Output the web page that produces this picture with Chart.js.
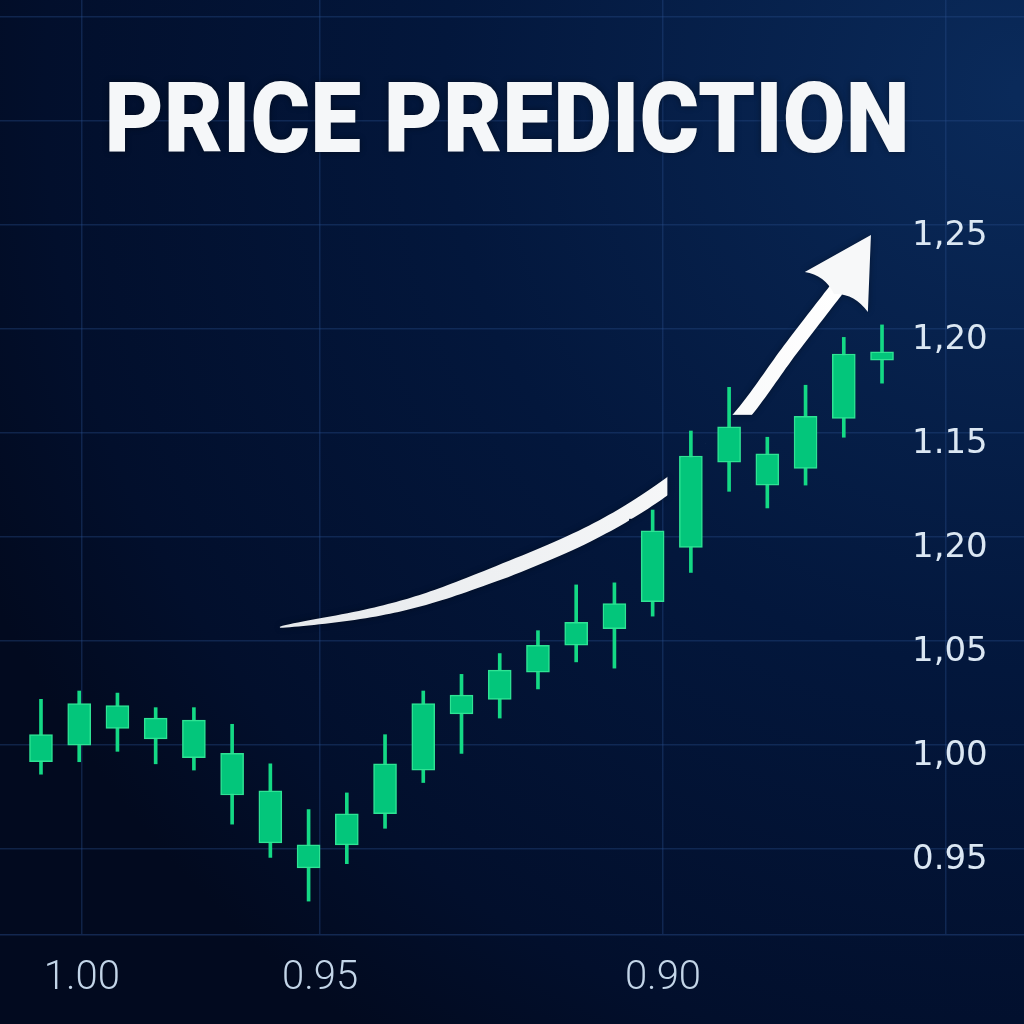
<!DOCTYPE html>
<html><head><meta charset="utf-8">
<script src="https://cdn.jsdelivr.net/npm/chart.js@4.4.1/dist/chart.umd.min.js"></script>
<style>html,body{margin:0;padding:0;background:#03163a;}#wrap{width:1024px;height:1024px;}</style>
</head><body><div id="wrap"><canvas id="c" width="1024" height="1024"></canvas></div>
<script>
const titleText = 'PRICE PREDICTION';
const candleX = [0,1,2,3,4,5,6,7,8,9,10,11,12,13,14,15,16,17,18,19,20,21,22];
const openV  = [0.992,1.000,1.008,1.003,0.994,0.976,0.953,0.941,0.952,0.967,0.988,1.015,1.022,1.035,1.048,1.056,1.069,1.095,1.136,1.125,1.133,1.157,1.185];
const closeV = [1.005,1.020,1.019,1.013,1.012,0.996,0.978,0.952,0.967,0.991,1.020,1.024,1.036,1.048,1.059,1.068,1.103,1.139,1.153,1.140,1.158,1.188,1.189];
const highV  = [1.022,1.026,1.025,1.018,1.018,1.010,0.991,0.969,0.977,1.005,1.026,1.034,1.044,1.055,1.077,1.078,1.113,1.151,1.172,1.148,1.173,1.196,1.202];
const lowV   = [0.986,0.992,0.997,0.991,0.988,0.962,0.946,0.925,0.943,0.960,0.982,0.996,1.013,1.027,1.040,1.037,1.062,1.083,1.122,1.114,1.125,1.148,1.174];
const yTickValues = [0.95,1.00,1.05,1.10,1.15,1.20,1.25,1.30,1.35];
const yTickLabels = ['0.95','1,00','1,05','1,20','1.15','1,20','1,25','',''];
const xTickValues = [1.07,7.3,16.27,23.67];
const xTickLabels = ['1.00','0.95','0.90',''];
const arrowPath = [[6.25,1.0567],[8.87,1.0645],[11.06,1.0765],[14.28,1.1010],[16.61,1.1275],[18.21,1.1558],[19.59,1.1899],[20.80,1.2188]];
const arrowHead = [[21.71,1.2452],[19.98,1.2274],[21.63,1.2082]];

const bgPlugin = {
  id:'bg',
  beforeDraw(chart){
    const ctx = chart.ctx, W = chart.width, H = chart.height;
    ctx.save();
    const r = ctx.createRadialGradient(1024,90,10,1024,90,1150);
    r.addColorStop(0,'#0a2a5a');
    r.addColorStop(0.5,'#03173c');
    r.addColorStop(0.85,'#020f2c');
    r.addColorStop(1,'#020a1f');
    ctx.fillStyle = r; ctx.fillRect(0,0,W,H);
    ctx.restore();
  }
};

function catmull(pts, n){
  const out=[];
  for(let i=0;i<pts.length-1;i++){
    const p0=pts[Math.max(0,i-1)],p1=pts[i],p2=pts[i+1],p3=pts[Math.min(pts.length-1,i+2)];
    for(let k=0;k<n;k++){
      const t=k/n,t2=t*t,t3=t2*t;
      const f=(a,b,c,d)=>0.5*((2*b)+(-a+c)*t+(2*a-5*b+4*c-d)*t2+(-a+3*b-3*c+d)*t3);
      out.push([f(p0[0],p1[0],p2[0],p3[0]),f(p0[1],p1[1],p2[1],p3[1])]);
    }
  }
  out.push(pts[pts.length-1]);
  return out;
}

const arrowPlugin = {
  id:'arrow',
  beforeDatasetsDraw(chart){
    const xs=chart.scales.x, ys=chart.scales.y;
    const off=document.createElement('canvas'); off.width=chart.width; off.height=chart.height;
    const ctx=off.getContext('2d');
    const P = arrowPath.map(p=>[xs.getPixelForValue(p[0]), ys.getPixelForValue(p[1])]);
    const pts = catmull(P, 20);
    const cum=[0];
    for(let i=1;i<pts.length;i++){cum.push(cum[i-1]+Math.hypot(pts[i][0]-pts[i-1][0],pts[i][1]-pts[i-1][1]));}
    const L=cum[cum.length-1];
    const left=[],right=[];
    for(let i=0;i<pts.length;i++){
      const a=pts[Math.max(0,i-1)], b=pts[Math.min(pts.length-1,i+1)];
      let dx=b[0]-a[0], dy=b[1]-a[1]; const d=Math.hypot(dx,dy)||1; dx/=d; dy/=d;
      const nx=-dy, ny=dx;
      const s=cum[i]/L;
      const w = 1 + 14*Math.pow(Math.min(1,s/0.35),0.6);
      left.push([pts[i][0]+nx*w/2, pts[i][1]+ny*w/2]);
      right.push([pts[i][0]-nx*w/2, pts[i][1]-ny*w/2]);
    }
    const g = ctx.createLinearGradient(P[0][0],P[0][1],P[P.length-1][0],P[P.length-1][1]);
    g.addColorStop(0,'#e6e9ec'); g.addColorStop(1,'#ffffff');
    ctx.fillStyle=g;
    ctx.beginPath();
    ctx.moveTo(left[0][0],left[0][1]);
    for(const p of left) ctx.lineTo(p[0],p[1]);
    for(let i=right.length-1;i>=0;i--) ctx.lineTo(right[i][0],right[i][1]);
    ctx.closePath(); ctx.fill();
    const H = arrowHead.map(p=>[xs.getPixelForValue(p[0]), ys.getPixelForValue(p[1])]);
    const end = P[P.length-1];
    ctx.fillStyle='#f7f8f9';
    ctx.beginPath();
    ctx.moveTo(H[0][0],H[0][1]);
    ctx.lineTo(H[1][0],H[1][1]);
    ctx.quadraticCurveTo((H[1][0]+end[0])/2+4,(H[1][1]+end[1])/2-6,end[0]-2,end[1]+4);
    ctx.quadraticCurveTo((H[2][0]+end[0])/2+2,(H[2][1]+end[1])/2-8,H[2][0],H[2][1]);
    ctx.closePath(); ctx.fill();
    // candles hide the arrow with a small dark halo around their bodies
    ctx.globalCompositeOperation='destination-out';
    const meta = chart.getDatasetMeta(0);
    meta.data.forEach(el=>{
      const p = el.getProps(['x','y','base','width'], true);
      const top=Math.min(p.y,p.base), bot=Math.max(p.y,p.base);
      ctx.fillRect(p.x-p.width/2-12, top-12, p.width+24, bot-top+19);
    });
    const c=chart.ctx;
    c.save();
    c.shadowColor='rgba(0,0,0,0.35)'; c.shadowBlur=6;
    c.drawImage(off,0,0);
    c.restore();
  }
};

const titlePlugin = {
  id:'titleText',
  afterDraw(chart){
    const ctx=chart.ctx;
    ctx.save();
    ctx.font='900 98px Roboto';
    const w=ctx.measureText(titleText).width;
    ctx.translate(507,152);
    ctx.scale(805/w,1);
    ctx.textAlign='center'; ctx.textBaseline='alphabetic';
    ctx.shadowColor='rgba(0,0,0,0.4)'; ctx.shadowBlur=6;
    ctx.fillStyle='#f5f7f9';
    ctx.fillText(titleText,0,0);
    ctx.restore();
  }
};

const gridColor='rgba(40,76,138,0.38)';
new Chart(document.getElementById('c'),{
  type:'bar',
  data:{
    datasets:[
      {label:'body', data:candleX.map((x,i)=>({x:x,y:[openV[i],closeV[i]]})),
       backgroundColor:'#03c67b', borderColor:'#2fe394', borderWidth:1.5, borderSkipped:false,
       barThickness:23, grouped:false},
      {label:'wick', data:candleX.map((x,i)=>({x:x,y:[lowV[i],highV[i]]})),
       backgroundColor:'#14d985', borderWidth:0, barThickness:3, grouped:false}
    ]
  },
  options:{
    responsive:false, animation:false, devicePixelRatio:1,
    layout:{padding:0},
    plugins:{legend:{display:false}, tooltip:{enabled:false}, title:{display:false}},
    scales:{
      x:{type:'linear', min:-1.072, max:25.714, offset:false,
         grid:{color:gridColor, lineWidth:1.5, offset:false, drawTicks:false},
         border:{display:true, color:'rgba(40,76,138,0.45)', width:1.5},
         afterBuildTicks(s){ s.ticks = xTickValues.map(v=>({value:v})); },
         afterFit(s){ s.height = 89; },
         ticks:{ callback:(v,i)=>xTickLabels[i], color:'#c3d5e8', padding:20, maxRotation:0, autoSkip:false,
                 font:{family:'Roboto', weight:300, size:40} }
      },
      y:{type:'linear', position:'right', min:0.9087, max:1.3582,
         grid:{color:gridColor, lineWidth:1.5, drawTicks:false},
         border:{display:false},
         afterBuildTicks(s){ s.ticks = yTickValues.map(v=>({value:v})); },
         afterFit(s){ s.width = 0; s._computeLabelArea = function(){ return undefined; }; },
         ticks:{ callback:(v,i)=>yTickLabels[i], color:'#dbe7f3', padding:-112, labelOffset:11, autoSkip:false,
                 font:{family:'DejaVu Sans', size:34} }
      }
    }
  },
  plugins:[bgPlugin, arrowPlugin, titlePlugin]
});
</script>
</body></html>
